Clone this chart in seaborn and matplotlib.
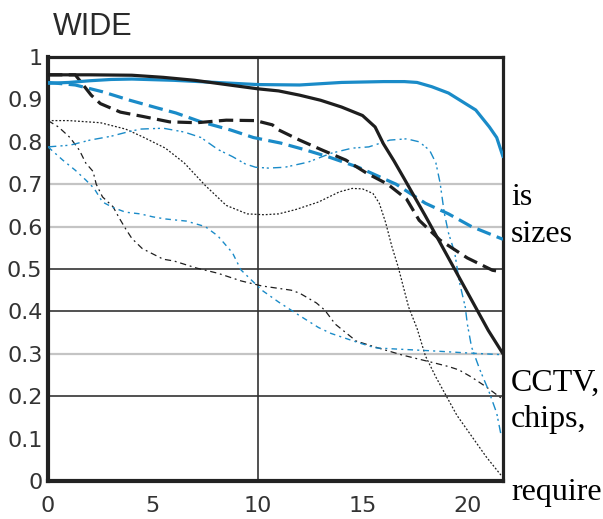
import matplotlib
matplotlib.use("Agg")
import matplotlib.pyplot as plt
import seaborn as sns
import pandas as pd

# ---- data ----
x_bs = [0, 2, 4, 5.5, 7, 8.5, 10, 11, 12, 13, 14, 15, 15.6, 16, 16.5, 17, 18, 19, 20, 21, 21.7]
y_bs = [0.958, 0.958, 0.957, 0.952, 0.945, 0.935, 0.925, 0.92, 0.91, 0.898, 0.882, 0.862, 0.835, 0.795, 0.755, 0.712, 0.625, 0.535, 0.445, 0.355, 0.30]

x_bls = [0, 1, 2, 3, 4, 6, 8, 10, 12, 13, 14, 16, 17, 17.6, 18.3, 19.1, 20.4, 21.05, 21.4, 21.7]
y_bls = [0.938, 0.94, 0.944, 0.947, 0.948, 0.945, 0.94, 0.935, 0.934, 0.937, 0.94, 0.942, 0.942, 0.94, 0.93, 0.915, 0.875, 0.835, 0.81, 0.765]

x_bd = [0, 1.3, 2.06, 2.5, 3.45, 4.5, 5.8, 7.1, 8.5, 9.9, 10.7, 11, 12, 13.1, 14.2, 15.2, 16.2, 17.1, 17.7, 18.7, 20, 21.2, 21.7]
y_bd = [0.958, 0.958, 0.91, 0.89, 0.87, 0.86, 0.847, 0.845, 0.851, 0.85, 0.84, 0.828, 0.804, 0.78, 0.757, 0.726, 0.70, 0.665, 0.615, 0.568, 0.526, 0.497, 0.493]

x_bld = [0, 1.3, 2.6, 3.9, 5.2, 6.1, 7.3, 8.7, 9.8, 11.1, 12.2, 13.4, 14.8, 16.6, 18, 19.1, 20.2, 21.7]
y_bld = [0.94, 0.934, 0.918, 0.898, 0.88, 0.868, 0.847, 0.828, 0.81, 0.797, 0.782, 0.764, 0.74, 0.70, 0.655, 0.63, 0.60, 0.57]

x_tb1 = [0, 1, 2.5, 3.7, 4.5, 5.6, 6.5, 7.5, 8.5, 9.5, 10.3, 11, 11.8, 12.9, 13.9, 14.5, 15, 15.5, 15.8, 16.1, 16.4, 16.7, 17.2, 17.6, 18.0, 18.5, 19, 19.5, 20.1, 20.9, 21.6]
y_tb1 = [0.85, 0.85, 0.845, 0.83, 0.812, 0.785, 0.75, 0.697, 0.65, 0.63, 0.628, 0.63, 0.64, 0.658, 0.682, 0.69, 0.689, 0.678, 0.655, 0.61, 0.553, 0.505, 0.41, 0.36, 0.295, 0.245, 0.20, 0.155, 0.113, 0.057, 0.014]

x_tb2 = [0, 0.5, 1.05, 1.5, 1.8, 2.15, 2.3, 2.6, 3.1, 3.4, 3.7, 4.0, 4.5, 5.5, 6, 7.1, 8.1, 9.2, 10.2, 11.6, 12, 12.8, 13.2, 13.7, 14.7, 15.8, 16.9, 18.3, 19.1, 19.6, 20.2, 20.9, 21.6]
y_tb2 = [0.85, 0.835, 0.81, 0.78, 0.75, 0.73, 0.70, 0.67, 0.647, 0.62, 0.595, 0.572, 0.548, 0.523, 0.519, 0.502, 0.49, 0.472, 0.46, 0.45, 0.443, 0.42, 0.403, 0.37, 0.33, 0.313, 0.297, 0.28, 0.27, 0.262, 0.245, 0.222, 0.196]

x_tbl1 = [0, 1.05, 2, 3, 3.7, 4.4, 5.5, 6.5, 7.3, 8.1, 8.8, 9.4, 9.9, 10.5, 11.3, 12.4, 13.5, 14.5, 15.3, 16.3, 17.1, 17.7, 18.2, 18.5, 18.7, 18.9, 19.1, 19.4, 19.6, 19.9, 20.0, 20.2, 20.6, 21, 21.4, 21.6]
y_tbl1 = [0.788, 0.792, 0.804, 0.813, 0.822, 0.83, 0.832, 0.823, 0.81, 0.782, 0.765, 0.748, 0.74, 0.738, 0.74, 0.752, 0.773, 0.785, 0.788, 0.804, 0.807, 0.80, 0.78, 0.75, 0.703, 0.632, 0.585, 0.538, 0.474, 0.41, 0.37, 0.316, 0.262, 0.215, 0.16, 0.11]

x_tbl2 = [0, 0.7, 1.3, 1.8, 2.2, 2.6, 3.1, 3.7, 4.4, 5, 5.6, 6.6, 7.5, 8.1, 8.8, 9.2, 9.7, 10.2, 11, 12, 12.9, 13.5, 14.7, 15.6, 16.7, 18.3, 20, 21.6]
y_tbl2 = [0.788, 0.757, 0.733, 0.71, 0.69, 0.658, 0.645, 0.634, 0.63, 0.623, 0.618, 0.613, 0.60, 0.578, 0.538, 0.498, 0.474, 0.45, 0.422, 0.39, 0.362, 0.348, 0.328, 0.314, 0.311, 0.307, 0.302, 0.298]

x_ticks = [0, 5, 10, 15, 20]
y_ticks = [0, 0.1, 0.2, 0.3, 0.4, 0.5, 0.6, 0.7, 0.8, 0.9, 1]
y_ticklabels = ["0", "0.1", "0.2", "0.3", "0.4", "0.5", "0.6", "0.7", "0.8", "0.9", "1"]
title = "WIDE"
side_words = ["is", "sizes", "CCTV,", "chips,", "require"]

# ---- drawing ----
sns.set_style("white")
plt.rcParams["font.family"] = ["DejaVu Sans"]

BLUE = "#1a8bc8"
BLACK = "#1e1e1e"

fig = plt.figure(figsize=(6.03, 5.19), dpi=100)
ax = fig.add_axes([48 / 603, 1 - 481 / 519, (503 - 48) / 603, (481 - 57) / 519])

# grid lines
for yv, c, lw in [(0.3, "#c4c4c4", 1.6), (0.6, "#c4c4c4", 1.6), (0.7, "#c4c4c4", 1.6),
                  (0.2, "#333333", 1.2), (0.4, "#333333", 1.2), (0.5, "#333333", 1.2)]:
    ax.axhline(yv, color=c, lw=lw, zorder=1)
ax.axvline(10, color="#333333", lw=1.2, zorder=1)

series = [
    (x_tb1, y_tb1, BLACK, 0.9, (0, (1.5, 1.5))),
    (x_tb2, y_tb2, BLACK, 0.9, (0, (5, 3, 1.5, 3))),
    (x_tbl1, y_tbl1, BLUE, 1.0, (0, (6, 3, 1.5, 2, 1.5, 3))),
    (x_tbl2, y_tbl2, BLUE, 1.0, (0, (4, 3, 1.5, 3))),
    (x_bld, y_bld, BLUE, 2.3, (0, (4.5, 2))),
    (x_bd, y_bd, BLACK, 2.3, (0, (4.5, 2))),
    (x_bls, y_bls, BLUE, 2.3, "solid"),
    (x_bs, y_bs, BLACK, 2.3, "solid"),
]
for xs, ys, col, lw, ls in series:
    df = pd.DataFrame({"x": xs, "y": ys})
    sns.lineplot(data=df, x="x", y="y", ax=ax, color=col, lw=lw,
                 linestyle=ls, sort=False, zorder=3)

ax.set_xlim(0, 21.7)
ax.set_ylim(0, 1)
ax.set_xticks(x_ticks)
ax.set_xticklabels([str(v) for v in x_ticks])
ax.set_yticks(y_ticks)
ax.set_yticklabels(y_ticklabels)
ax.set_xlabel("")
ax.set_ylabel("")
ax.tick_params(axis="both", length=0, labelsize=16, labelcolor="#333333")
ax.tick_params(axis="y", pad=4)
ax.tick_params(axis="x", pad=11)
for s in ax.spines.values():
    s.set_visible(True)
    s.set_color("#222222")
    s.set_linewidth(2.3)
ax.spines["left"].set_linewidth(3)
ax.spines["bottom"].set_linewidth(3)

fig.text(53 / 603, 1 - 35 / 519, title, fontsize=22, color="#2a2a2a",
         family=["Liberation Sans", "DejaVu Sans"], va="baseline", ha="left")

baselines = [205, 242, 391, 427, 500]
for w, b in zip(side_words, baselines):
    fig.text(511 / 603, 1 - b / 519, w, fontsize=23, color="black",
             family=["Liberation Serif", "DejaVu Serif"], va="baseline", ha="left")

fig.savefig("out.png", dpi=100)
